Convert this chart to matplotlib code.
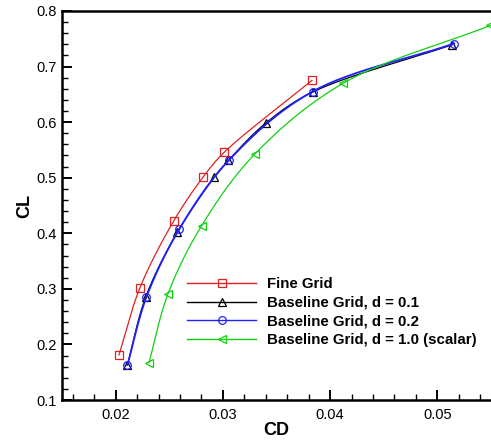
import numpy as np
import matplotlib
matplotlib.use("Agg")
import matplotlib.pyplot as plt
from matplotlib.ticker import MultipleLocator

plt.rcParams['font.family'] = ['Liberation Sans', 'DejaVu Sans']

# Data (CD, CL)
fine_cd = [0.02031, 0.02227, 0.02544, 0.02815, 0.03014, 0.03830]
fine_cl = [0.181, 0.302, 0.423, 0.501, 0.546, 0.675]

d01_cd = [0.02110, 0.02280, 0.02576, 0.02920, 0.03051, 0.03398, 0.03836, 0.05134]
d01_cl = [0.163, 0.285, 0.402, 0.501, 0.531, 0.598, 0.654, 0.739]

d02_cd = [0.02110, 0.02287, 0.02592, 0.03054, 0.03836, 0.05157]
d02_cl = [0.163, 0.285, 0.407, 0.531, 0.655, 0.7415]

d10_cd = [0.02311, 0.02488, 0.02803, 0.03300, 0.04122, 0.05494]
d10_cl = [0.167, 0.291, 0.414, 0.543, 0.670, 0.774]

labels = ["Fine Grid", "Baseline Grid, d = 0.1", "Baseline Grid, d = 0.2",
          "Baseline Grid, d = 1.0 (scalar)"]


def smooth(xs, ys, n=40, alpha=0.5):
    """Centripetal Catmull-Rom curve through the given points (scaled space)."""
    x = np.asarray(xs, float) / 0.04
    y = np.asarray(ys, float) / 0.7
    P = np.column_stack([x, y])
    P = np.vstack([2 * P[0] - P[1], P, 2 * P[-1] - P[-2]])
    out = []
    for i in range(1, len(P) - 2):
        p0, p1, p2, p3 = P[i - 1], P[i], P[i + 1], P[i + 2]
        t0 = 0.0
        t1 = t0 + np.linalg.norm(p1 - p0) ** alpha
        t2 = t1 + np.linalg.norm(p2 - p1) ** alpha
        t3 = t2 + np.linalg.norm(p3 - p2) ** alpha
        t = np.linspace(t1, t2, n)[:, None]
        a1 = (t1 - t) / (t1 - t0) * p0 + (t - t0) / (t1 - t0) * p1
        a2 = (t2 - t) / (t2 - t1) * p1 + (t - t1) / (t2 - t1) * p2
        a3 = (t3 - t) / (t3 - t2) * p2 + (t - t2) / (t3 - t2) * p3
        b1 = (t2 - t) / (t2 - t0) * a1 + (t - t0) / (t2 - t0) * a2
        b2 = (t3 - t) / (t3 - t1) * a2 + (t - t1) / (t3 - t1) * a3
        c = (t2 - t) / (t2 - t1) * b1 + (t - t1) / (t2 - t1) * b2
        out.append(c)
    c = np.vstack(out)
    return c[:, 0] * 0.04, c[:, 1] * 0.7


fig = plt.figure(figsize=(4.91, 4.43), dpi=100)
ax = fig.add_axes([62 / 491, 1 - 400 / 443, 1 - 62 / 491, (400 - 11) / 443])

series = [
    (fine_cd, fine_cl, '#e02020', 's', 3, 0.9),
    (d01_cd, d01_cl, 'black', '^', 2, 0.9),
    (d02_cd, d02_cl, '#2020ff', 'o', 2.5, 1.3),
    (d10_cd, d10_cl, '#10d010', '<', 3, 0.9),
]
handles = []
for (cx, cy, col, mk, z, lw), lab in zip(series, labels):
    sx, sy = smooth(cx, cy)
    ax.plot(sx, sy, color=col, lw=lw, zorder=z)
    ax.plot(cx, cy, linestyle='none', marker=mk, markersize=5.5,
            markerfacecolor='none', markeredgecolor=col, markeredgewidth=0.9, zorder=z + 0.1)
    h, = ax.plot([], [], color=col, lw=1.0, marker=mk, markersize=5.5,
                 markerfacecolor='none', markeredgecolor=col, markeredgewidth=0.9)
    handles.append(h)

ax.set_xlim(0.015, 0.055)
ax.set_ylim(0.1, 0.8)
ax.xaxis.set_minor_locator(MultipleLocator(0.002))
ax.yaxis.set_minor_locator(MultipleLocator(0.02))
ax.set_xticks([0.02, 0.03, 0.04, 0.05])
ax.set_yticks([0.1, 0.2, 0.3, 0.4, 0.5, 0.6, 0.7, 0.8])
ax.set_yticklabels(['0.1', '0.2', '0.3', '0.4', '0.5', '0.6', '0.7', '0.8'])
ax.tick_params(which='major', direction='in', length=7, width=1.4, labelsize=10.5, pad=4)
ax.tick_params(which='minor', direction='in', length=4, width=1.0)
ax.tick_params(axis='x', pad=6)
ax.spines['right'].set_visible(False)
for s in ['left', 'bottom', 'top']:
    ax.spines[s].set_linewidth(1.8)

ax.set_xlabel('CD', fontsize=13, fontweight='bold', labelpad=0)
ax.set_ylabel('CL', fontsize=13, fontweight='bold', labelpad=2)

leg = fig.legend(handles, labels, loc='upper left', bbox_to_anchor=(187 / 491, 1 - 277 / 443),
                 frameon=False, borderpad=0, borderaxespad=0, handlelength=4.6,
                 handletextpad=0.75, labelspacing=0.32, prop={'weight': 'bold', 'size': 10.8})

fig.savefig('out.png', dpi=100)
